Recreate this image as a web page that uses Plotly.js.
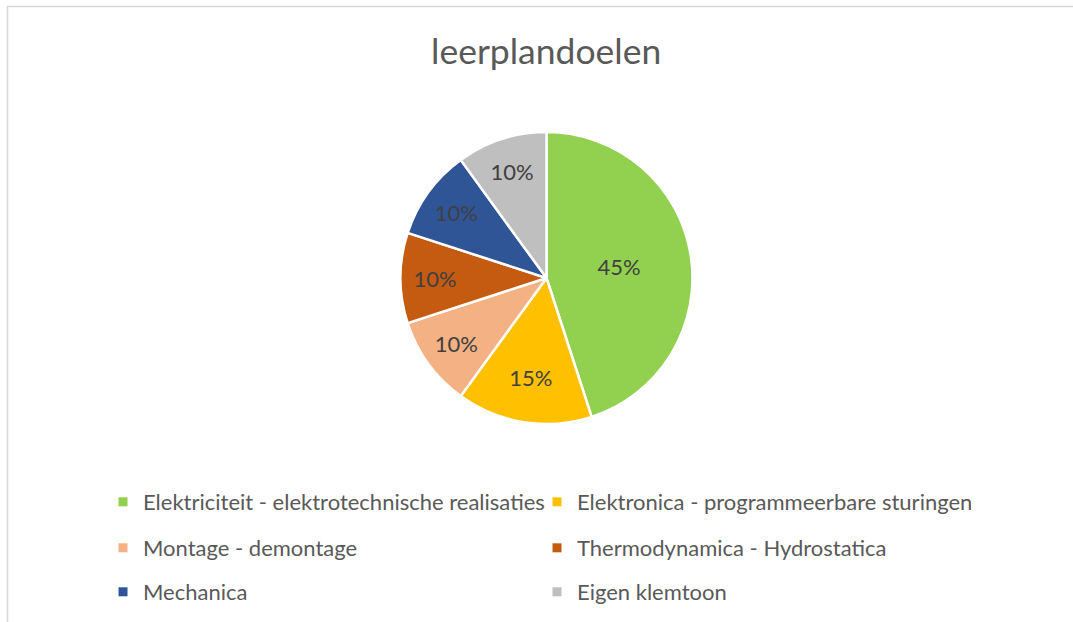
<!DOCTYPE html>
<html>
<head>
<meta charset="utf-8">
<script src="https://cdn.plot.ly/plotly-3.0.1.min.js"></script>
<style>html,body{margin:0;padding:0;background:#fff;}#chart{width:1073px;height:622px;}</style>
</head>
<body>
<div id="chart"></div>
<script>
const categories = [
  "Elektriciteit - elektrotechnische realisaties",
  "Elektronica - programmeerbare sturingen",
  "Montage - demontage",
  "Thermodynamica - Hydrostatica",
  "Mechanica",
  "Eigen klemtoon"
];
const values = [45, 15, 10, 10, 10, 10];
const colors = ["#92D050", "#FFC000", "#F4B183", "#C55A11", "#2F5597", "#BFBFBF"];
const chartTitle = "leerplandoelen";

const FONT = "Lato, 'Open Sans', sans-serif";

const pie = {
  type: "pie",
  labels: categories,
  values: values,
  sort: false,
  direction: "clockwise",
  rotation: 0,
  marker: {colors: colors, line: {color: "#ffffff", width: 2.5}},
  textinfo: "percent",
  textposition: "inside",
  insidetextorientation: "horizontal",
  texttemplate: "%{percent:.0%}",
  textfont: {family: FONT, size: 22, color: "#404040"},
  domain: {x: [400.5/1073, 692.5/1073], y: [(622-424)/622, (622-132)/622]},
  showlegend: false,
  hoverinfo: "label+percent"
};

const legendNames = ["legend", "legend", "legend2", "legend2", "legend3", "legend3"];
const dummies = categories.map((c, i) => ({
  type: "scatter",
  mode: "markers",
  x: [null], y: [null],
  name: c,
  legend: legendNames[i],
  marker: {symbol: "square", size: 9, color: colors[i]},
  showlegend: true,
  hoverinfo: "skip"
}));

const rowY = [502, 548, 592];
function legendCfg(row) {
  return {
    orientation: "h",
    x: 103/1073, xanchor: "left",
    y: (622 - rowY[row]) / 622, yanchor: "middle",
    entrywidth: 389, entrywidthmode: "pixels",
    font: {family: FONT, size: 22, color: "#595959"},
    bgcolor: "rgba(0,0,0,0)",
    itemclick: false, itemdoubleclick: false
  };
}

const layout = {
  width: 1073, height: 622,
  margin: {l: 0, r: 0, t: 0, b: 0},
  paper_bgcolor: "#ffffff",
  plot_bgcolor: "#ffffff",
  title: {text: chartTitle, font: {family: FONT, size: 35.5, color: "#595959"}, x: 0.509, xanchor: "center", y: 1 - 52/622, yanchor: "middle"},
  xaxis: {visible: false},
  yaxis: {visible: false},
  legend: legendCfg(0),
  legend2: legendCfg(1),
  legend3: legendCfg(2),
  shapes: [{
    type: "rect", xref: "paper", yref: "paper",
    x0: 7.5/1073, x1: 1.05, y0: -0.05, y1: (622-6.5)/622,
    line: {color: "#D9D9D9", width: 1.5}, fillcolor: "rgba(0,0,0,0)"
  }]
};

Plotly.newPlot("chart", [pie].concat(dummies), layout, {displayModeBar: false});
</script>
</body>
</html>
